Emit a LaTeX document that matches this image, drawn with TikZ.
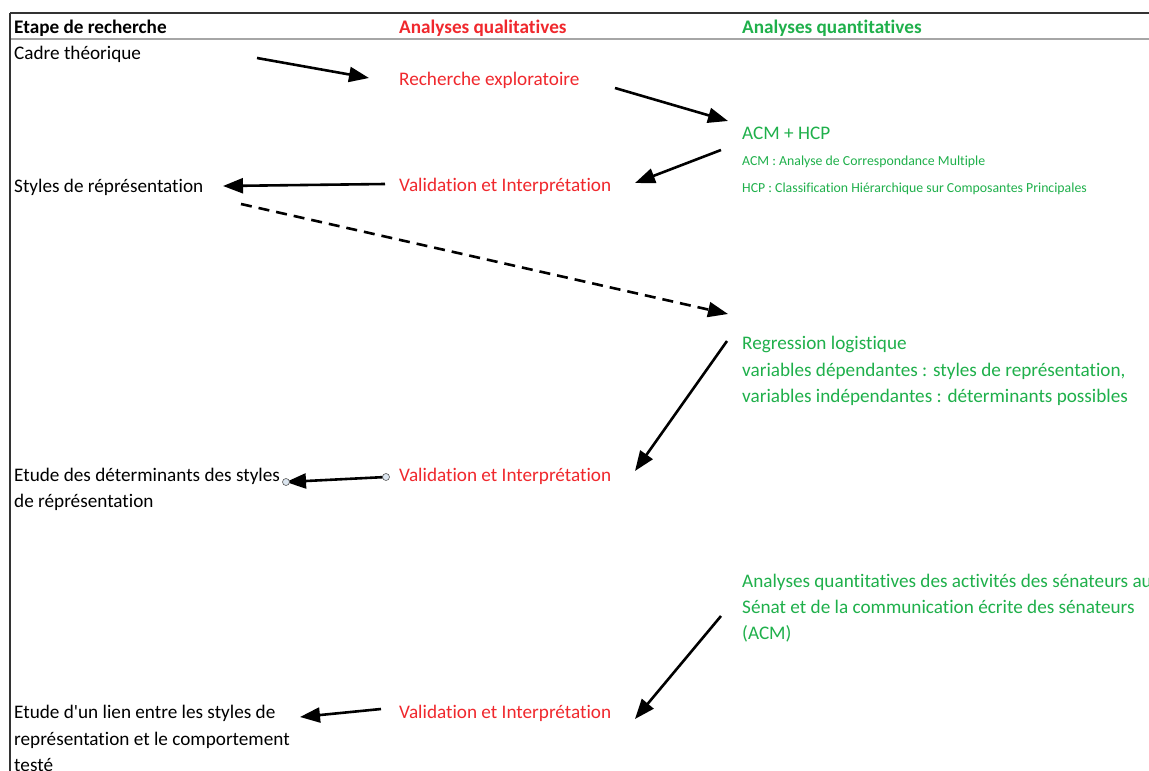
\documentclass[tikz,border=0pt]{standalone}
\usepackage{fontspec}
\setmainfont{Carlito}[Ligatures={NoCommon,NoRare,TeXOff}]
\usetikzlibrary{arrows.meta}
\definecolor{qred}{HTML}{F0282D}
\definecolor{qgreen}{HTML}{1FB04B}
\definecolor{handle}{HTML}{DCE6F0}
\tikzset{
  txt/.style={anchor=base west, inner sep=0pt, font=\fontsize{19.2}{22}\selectfont},
  qual/.style={txt, text=qred},
  quant/.style={txt, text=qgreen},
  small/.style={quant, font=\fontsize{13.8}{16}\selectfont},
  head/.style={txt, font=\fontsize{19.2}{22}\selectfont\bfseries},
  flow/.style={line width=2.6pt, -{Triangle[length=20pt,width=15pt]}},
  dflow/.style={flow, dash pattern=on 11pt off 7pt},
  hdl/.style={circle, draw=gray!70!black, fill=handle, line width=0.6pt, inner sep=0pt, minimum size=7pt}
}
\begin{document}
\begin{tikzpicture}[x=1pt,y=-1pt]
\useasboundingbox (0,0) rectangle (1149,771);
\clip (0,0) rectangle (1149,771);
\fill[white] (0,0) rectangle (1149,771);
% table frame
\draw[line width=1.6pt, black!80] (10,13) -- (1149,13);
\draw[line width=1.6pt, gray!70] (10,39) -- (1149,39);
\draw[line width=1.2pt, black!80] (10,13) -- (10,771);
% headers
\node[head] (h1) at (14,33) {Etape de recherche};
\node[head, text=qred] (h2) at (399,33) {Analyses qualitatives};
\node[head, text=qgreen] (h3) at (742,33) {Analyses quantitatives};
% column 1
\node[txt] (cadre) at (14,59) {Cadre théorique};
\node[txt] (styles) at (14,192) {Styles de réprésentation};
\node[txt] (etude1a) at (14,481) {Etude des déterminants des styles};
\node[txt] (etude1b) at (14,507) {de réprésentation};
\node[txt] (etude2a) at (14,718) {Etude d'un lien entre les styles de};
\node[txt] (etude2b) at (14,745) {représentation et le comportement};
\node[txt] (etude2c) at (14,771) {testé};
% column 2
\node[qual] (rech) at (399,85) {Recherche exploratoire};
\node[qual] (val1) at (399,191) {Validation et Interprétation};
\node[qual] (val2) at (399,481) {Validation et Interprétation};
\node[qual] (val3) at (399,718) {Validation et Interprétation};
% column 3
\node[quant] (acm) at (742,139) {ACM + HCP};
\node[small] (acmdef) at (742,165) {ACM : Analyse de Correspondance Multiple};
\node[small] (hcpdef) at (742,192) {HCP : Classification Hiérarchique sur Composantes Principales};
\node[quant] (rega) at (742,349) {Regression logistique};
\node[quant] (regb) at (742,376) {variables dépendantes : styles de représentation,};
\node[quant] (regc) at (742,402) {variables indépendantes : déterminants possibles};
\node[quant] (aqa) at (742,587) {Analyses quantitatives des activités des sénateurs au};
\node[quant] (aqb) at (742,613) {Sénat et de la communication écrite des sénateurs};
\node[quant] (aqc) at (742,639) {(ACM)};
% connector end points
\coordinate (a1s) at (257,58);  \coordinate (a1e) at (369,78);
\coordinate (a2s) at (615,88);  \coordinate (a2e) at (728,121);
\coordinate (a3s) at (721,150); \coordinate (a3e) at (635,183);
\coordinate (a4s) at (385,184); \coordinate (a4e) at (223,186);
\coordinate (a5s) at (241,204); \coordinate (a5e) at (728,314);
\coordinate (a6s) at (727,341); \coordinate (a6e) at (635,471);
\coordinate (a7s) at (386,477); \coordinate (a7e) at (286,482);
\coordinate (a8s) at (721,616); \coordinate (a8e) at (635,719);
\coordinate (a9s) at (381,709); \coordinate (a9e) at (300,717);
% connectors
\draw[flow] (a1s) -- (a1e);
\draw[flow] (a2s) -- (a2e);
\draw[flow] (a3s) -- (a3e);
\draw[flow] (a4s) -- (a4e);
\draw[dflow] (a5s) -- (a5e);
\draw[flow] (a6s) -- (a6e);
\draw[flow] (a7s) -- (a7e);
\draw[flow] (a8s) -- (a8e);
\draw[flow] (a9s) -- (a9e);
\node[hdl] (hd1) at (a7s) {};
\node[hdl] (hd2) at (a7e) {};
\end{tikzpicture}
\end{document}
